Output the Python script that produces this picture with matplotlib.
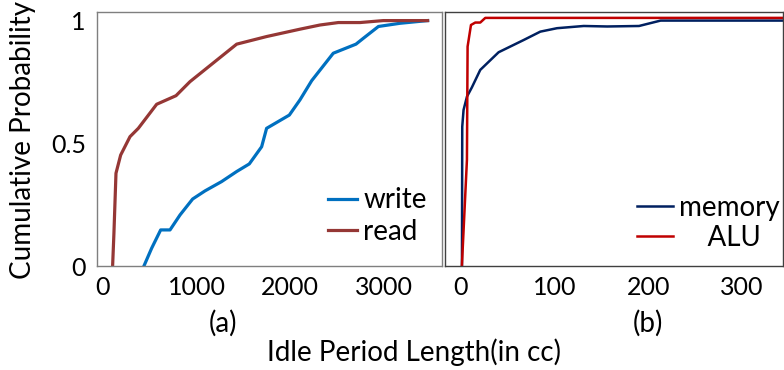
import matplotlib
matplotlib.use("Agg")
import matplotlib.pyplot as plt

plt.rcParams['font.family'] = ['Lato', 'DejaVu Sans']

# Panel (a): write / read idle period CDFs
write_x = [438, 520, 617, 717, 824, 959, 1091, 1269, 1430, 1565, 1697, 1750, 1993, 2107, 2232, 2463, 2706, 2785, 2946, 3176, 3472]
write_y = [0, 0.072, 0.147, 0.147, 0.208, 0.273, 0.306, 0.344, 0.385, 0.416, 0.486, 0.561, 0.615, 0.677, 0.755, 0.867, 0.904, 0.928, 0.976, 0.989, 1.0]
read_x = [103, 117, 139, 189, 289, 378, 574, 781, 930, 1430, 1750, 2107, 2321, 2517, 2749, 2998, 3472]
read_y = [0, 0.133, 0.378, 0.452, 0.527, 0.561, 0.659, 0.694, 0.751, 0.904, 0.935, 0.965, 0.982, 0.992, 0.992, 1.0, 1.0]

# Panel (b): memory / ALU idle period CDFs
mem_x = [1.1, 1.4, 2.8, 6.4, 11.7, 20.6, 40.2, 67, 84.7, 102.5, 131, 156, 190, 213, 344]
mem_y = [0, 0.568, 0.636, 0.69, 0.728, 0.799, 0.871, 0.921, 0.955, 0.969, 0.978, 0.976, 0.978, 1.0, 1.0]
alu_x = [1, 6.4, 7.1, 10.7, 15.3, 20.6, 26, 344]
alu_y = [0, 0.432, 0.894, 0.982, 0.992, 0.992, 1.011, 1.011]

a_xticks = [0, 1000, 2000, 3000]
b_xticks = [0, 100, 200, 300]
yticks = [0, 0.5, 1]
ytick_labels = ["0", "0.5", "1"]

W, H = 784, 370
fig = plt.figure(figsize=(W / 100, H / 100), dpi=100)

def px_axes(x0, y0, x1, y1):
    return fig.add_axes([x0 / W, (H - y1) / H, (x1 - x0) / W, (y1 - y0) / H])

def fpt(x, y):
    return (x / W, 1 - y / H)

axa = px_axes(97, 12, 442, 266)
axb = px_axes(445, 12, 783, 266)

TFS = 18
LFS = 20
for ax in (axa, axb):
    ax.set_ylim(0, 1.035)
    ax.set_yticks(yticks)
    ax.tick_params(length=0, labelsize=TFS)
    ax.tick_params(axis='y', pad=8)
    ax.tick_params(axis='x', pad=7)

axa.plot(write_x, write_y, color='#0070C0', lw=2.3, label='write')
axa.plot(read_x, read_y, color='#953735', lw=2.3, label='read')
axa.set_xlim(-64, 3626)
axa.set_xticks(a_xticks)
axa.set_yticklabels(ytick_labels)
for s in axa.spines.values():
    s.set_color('#7f7f7f')
    s.set_linewidth(1.0)
axa.legend(loc='center left', frameon=False, fontsize=LFS, handlelength=1.05,
           handletextpad=0.22, labelspacing=0.2, borderpad=0, borderaxespad=0,
           bbox_to_anchor=fpt(328, 216), bbox_transform=fig.transFigure)

axb.plot(mem_x, mem_y, color='#002060', lw=1.8, label='memory')
axb.plot(alu_x, alu_y, color='#C00000', lw=1.8, label='    ALU')
axb.set_xlim(-17, 343.6)
axb.set_xticks(b_xticks)
axb.set_yticklabels([])
for s in axb.spines.values():
    s.set_color('#404040')
    s.set_linewidth(1.0)
axb.legend(loc='center left', frameon=False, fontsize=LFS, handlelength=1.3,
           handletextpad=0.2, labelspacing=0.15, borderpad=0, borderaxespad=0,
           bbox_to_anchor=fpt(637, 223), bbox_transform=fig.transFigure)

fig.text(23 / W, 1 - 140 / H, 'Cumulative Probability', rotation=90,
         ha='center', va='center', fontsize=LFS)
fig.text(223 / W, 1 - 323 / H, '(a)', ha='center', va='center', fontsize=LFS)
fig.text(648 / W, 1 - 323 / H, '(b)', ha='center', va='center', fontsize=LFS)
fig.text(414 / W, 1 - 352 / H, 'Idle Period Length(in cc)', ha='center', va='center', fontsize=LFS)

fig.savefig('out.png', dpi=100)
